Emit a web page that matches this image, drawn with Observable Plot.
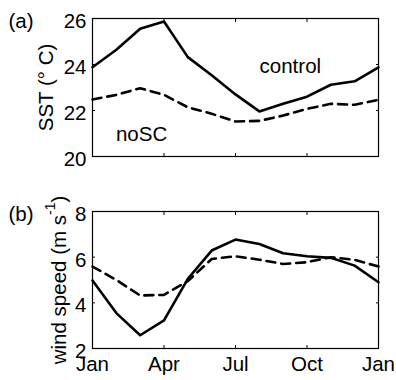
<!DOCTYPE html>
<html><head><meta charset="utf-8">
<script src="https://cdn.jsdelivr.net/npm/d3@7"></script>
<script src="https://cdn.jsdelivr.net/npm/@observablehq/plot@0.6"></script>
<style>
body{margin:0;background:#fff;}
#fig{position:relative;width:396px;height:380px;background:#fff;}
#fig svg{position:absolute;left:0;}
</style></head><body><div id="fig"></div>
<script>
const months = [0,1,2,3,4,5,6,7,8,9,10,11,12];
const tickMonths = [0,3,6,9,12];
const tickLabels = ["Jan","Apr","Jul","Oct","Jan"];
const sstControl = [23.88,24.64,25.55,25.87,24.32,23.53,22.70,21.96,22.29,22.60,23.12,23.27,23.88];
const sstNoSC    = [22.48,22.68,22.97,22.68,22.14,21.86,21.52,21.55,21.78,22.07,22.29,22.25,22.46];
const windControl = [4.98,3.55,2.58,3.23,5.05,6.29,6.77,6.58,6.17,6.04,5.97,5.63,4.90];
const windNoSC    = [5.59,5.00,4.32,4.35,4.95,5.92,6.04,5.89,5.70,5.78,6.00,5.88,5.59];
const sstTicks = [20,22,24,26];
const windTicks = [2,4,6,8];
const sstLabel = "SST (° C)";
const windLabel = "wind speed (m s-1)";

const FONT = "'Liberation Sans', Arial, Helvetica, sans-serif";
const FS = 20.5;

function panel(o) {
  const toRows = arr => months.map((m, i) => ({m, v: arr[i]}));
  return Plot.plot({
    width: 396, height: o.height,
    marginLeft: 92, marginRight: 18, marginTop: o.marginTop, marginBottom: o.marginBottom,
    style: {fontFamily: FONT, fontSize: FS + "px", background: "white", color: "black", overflow: "visible"},
    x: {domain: [0, 12]},
    y: {domain: o.yDomain},
    marks: [
      Plot.line(toRows(o.solid), {x: "m", y: "v", stroke: "black", strokeWidth: 2.6}),
      Plot.line(toRows(o.dashed), {x: "m", y: "v", stroke: "black", strokeWidth: 2.6, strokeDasharray: "9,6"}),
      Plot.frame({stroke: "black", strokeWidth: 1.2}),
      Plot.axisY(o.yTicks, {anchor: "left", tickSize: -3, tickFormat: () => "", label: null}),
      Plot.axisY(o.yTicks, {anchor: "right", tickSize: -3, tickFormat: () => "", label: null}),
      Plot.axisY(o.yTicks, {anchor: "left", tickSize: 0, tickPadding: 6, dy: 3, label: null, fontSize: FS}),
      Plot.axisX(tickMonths, {anchor: "bottom", tickSize: -3, tickFormat: () => "", label: null}),
      Plot.axisX(tickMonths, {anchor: "top", tickSize: -3, tickFormat: () => "", label: null}),
      o.xLabels ? Plot.axisX(tickMonths, {anchor: "bottom", tickSize: 0, tickPadding: 8, label: null, fontSize: FS,
        tickFormat: d => tickLabels[tickMonths.indexOf(d)]}) : null,
      Plot.text([o.tag], {frameAnchor: "top-left", text: d => d, dx: -84, dy: o.tagDy, textAnchor: "start", lineAnchor: "middle", fontSize: FS}),
      Plot.text([o.ylabel], {frameAnchor: "left", text: d => d, rotate: -90, dx: o.ylabelDx, textAnchor: "middle", lineAnchor: "bottom", fontSize: FS}),
      ...(o.extra || [])
    ]
  });
}

const topPanel = panel({
  height: 190, marginTop: 18, marginBottom: 34,
  yDomain: [20, 26], yTicks: sstTicks, solid: sstControl, dashed: sstNoSC,
  xLabels: false, tag: "(a)", tagDy: 3, ylabel: sstLabel, ylabelDx: -40,
  extra: [
    Plot.text(["control"], {x: [8.3], y: [23.92], text: d => d, fontSize: FS, lineAnchor: "middle"}),
    Plot.text(["noSC"], {x: [2.06], y: [20.95], text: d => d, fontSize: FS, lineAnchor: "middle"})
  ]
});
topPanel.style.top = "0px";

const bottomPanel = panel({
  height: 190, marginTop: 21, marginBottom: 32,
  yDomain: [2, 8], yTicks: windTicks, solid: windControl, dashed: windNoSC,
  xLabels: true, tag: "(b)", tagDy: 3, ylabel: windLabel, ylabelDx: -27
});
bottomPanel.style.top = "190px";

// superscript in the wind speed label
for (const t of bottomPanel.querySelectorAll("text")) {
  if (t.textContent === windLabel) {
    const ns = "http://www.w3.org/2000/svg";
    t.textContent = "";
    const a = document.createElementNS(ns, "tspan"); a.textContent = "wind speed (m s";
    const b = document.createElementNS(ns, "tspan"); b.textContent = "-1";
    b.setAttribute("dy", "-11"); b.setAttribute("font-size", "14px");
    const c = document.createElementNS(ns, "tspan"); c.textContent = ")";
    c.setAttribute("dy", "11");
    t.append(a, b, c);
  }
}

document.getElementById("fig").append(topPanel, bottomPanel);
</script></body></html>
